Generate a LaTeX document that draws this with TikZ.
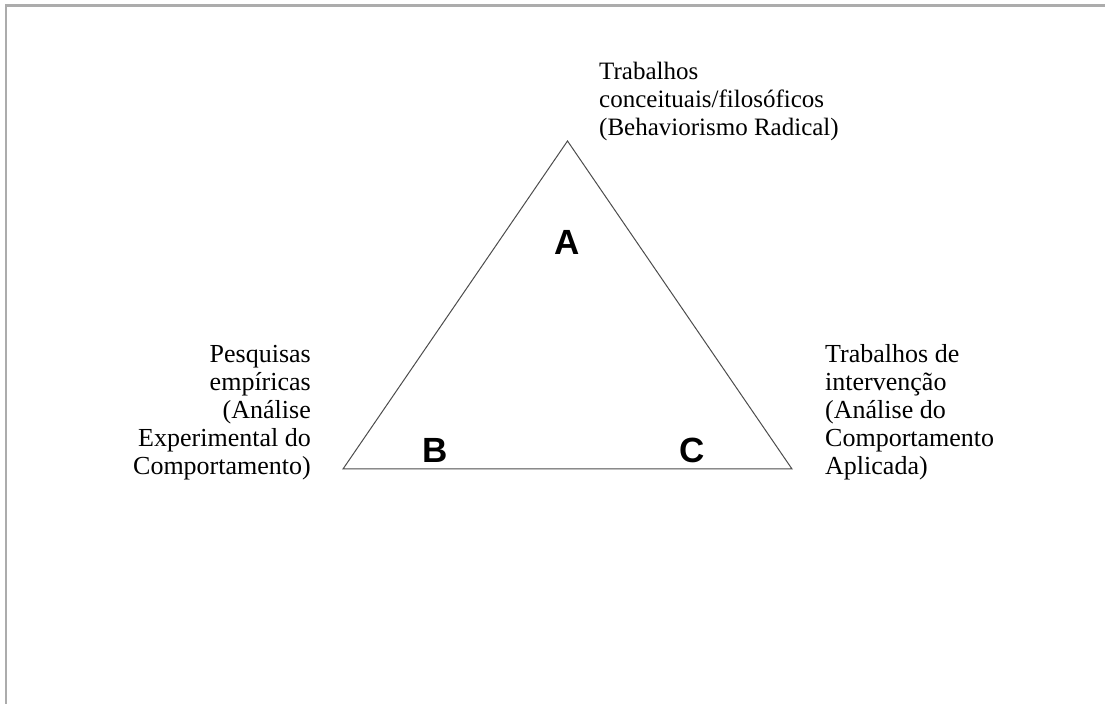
\documentclass[tikz,border=0pt]{standalone}
\usepackage{fontspec}
\setmainfont{Liberation Serif}
\newfontfamily\lettrefont{Liberation Sans}
\usetikzlibrary{positioning}
\begin{document}
\begin{tikzpicture}[x=1pt,y=1pt,
    texte/.style={inner sep=0pt, font=\fontsize{25}{28}\selectfont},
    texteside/.style={inner sep=0pt, font=\fontsize{26}{28}\selectfont},
    lettre/.style={inner sep=0pt, font=\lettrefont\bfseries\fontsize{35}{35}\selectfont}]
    \useasboundingbox (0,0) rectangle (1105,704);
    % cadre
    \draw [line width=2.5pt, gray!65] (5,698.5)--(1104.5,698.5);
    \draw [line width=2.5pt, gray!65] (6,699.7)--(6,0);
    % triangle
    \coordinate (sommetA) at (567.5,563);
    \coordinate (sommetB) at (343,235);
    \coordinate (sommetC) at (792,235);
    \draw [line width=1pt, black!70, line join=miter] (sommetA)--(sommetB)--(sommetC)--cycle;
    \node (lettreA) at (567.5,462) [lettre] {A};
    \node (lettreB) at (435.5,254) [lettre] {B};
    \node (lettreC) at (692,254) [lettre] {C};
    % legendes
    \node (legendeA) at (599,642) [texte, anchor=north west, align=left]
        {Trabalhos\\conceituais/filosóficos\\(Behaviorismo Radical)};
    \node (legendeB) at (311,358.7) [texteside, anchor=north east, align=right]
        {Pesquisas\\empíricas\\(Análise\\Experimental do\\Comportamento)};
    \node (legendeC) at (825,359.3) [texteside, anchor=north west, align=left]
        {Trabalhos de\\intervenção\\(Análise do\\Comportamento\\Aplicada)};
\end{tikzpicture}
\end{document}
